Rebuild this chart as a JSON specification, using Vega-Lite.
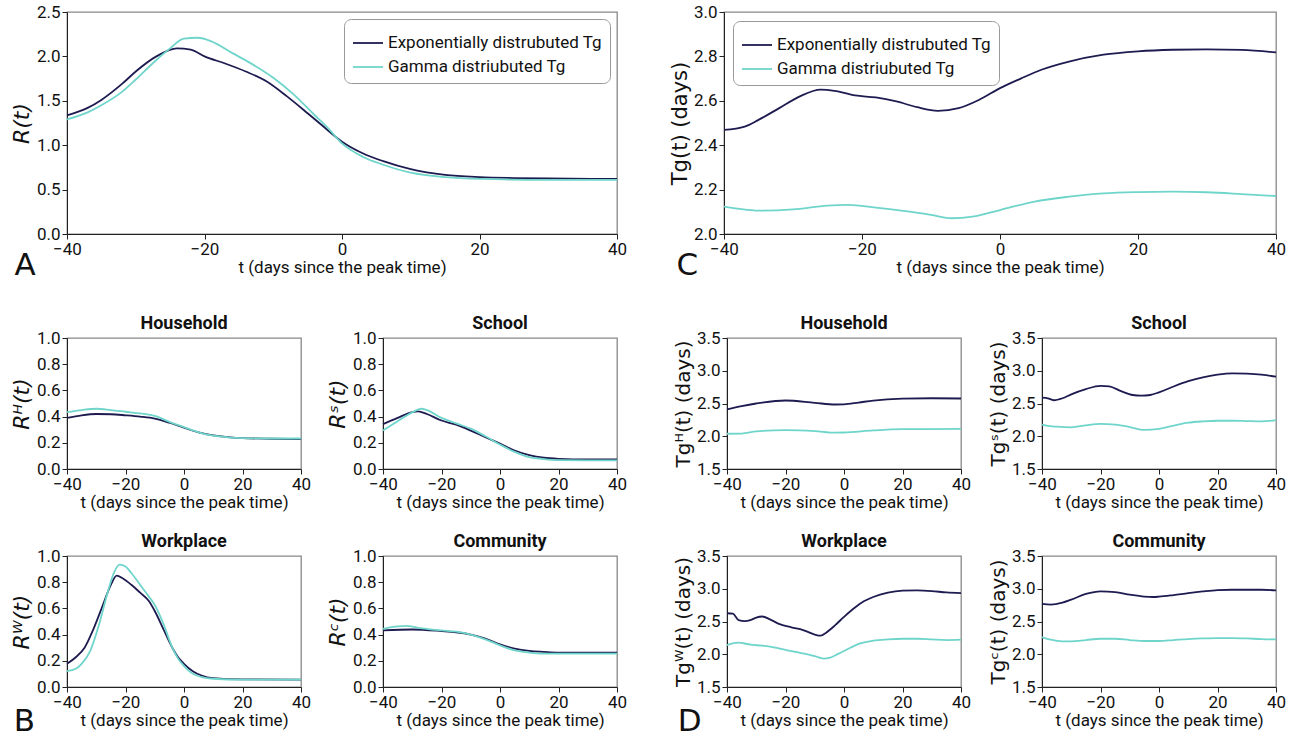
{
"$schema": "https://vega.github.io/schema/vega-lite/v6.json",
"padding": {"left": 9, "top": 2, "right": 2, "bottom": 0},
"background": "white",
"config": {
  "font": "Roboto",
  "view": {"stroke": "#888", "strokeWidth": 1.3},
  "axis": {"grid": false, "labelFont": "Roboto", "labelFontSize": 17, "titleFont": "Roboto", "titleFontSize": 17, "titleFontWeight": "normal", "labelColor": "#111", "titleColor": "#111", "tickColor": "#222", "domainColor": "#222", "tickSize": 5, "labelPadding": 2, "labelFlush": false, "labelOverlap": false},
  "axisX": {"titlePadding": 2},
  "axisY": {"titlePadding": 3},
  "title": {"fontSize": 18, "fontWeight": "bold", "color": "#111", "font": "Roboto"},
  "line": {"strokeWidth": 1.8, "interpolate": "monotone"}
},
"datasets": {"d": [
{"p":"A","s":"E","t":-40,"v":1.335},{"p":"A","s":"E","t":-37,"v":1.42},{"p":"A","s":"E","t":-35,"v":1.51},{"p":"A","s":"E","t":-32,"v":1.69},{"p":"A","s":"E","t":-30,"v":1.83},{"p":"A","s":"E","t":-27,"v":2.0},{"p":"A","s":"E","t":-24,"v":2.09},{"p":"A","s":"E","t":-22,"v":2.075},{"p":"A","s":"E","t":-20,"v":2.0},{"p":"A","s":"E","t":-17,"v":1.92},{"p":"A","s":"E","t":-14,"v":1.83},{"p":"A","s":"E","t":-11,"v":1.72},{"p":"A","s":"E","t":-8,"v":1.55},{"p":"A","s":"E","t":-5,"v":1.36},{"p":"A","s":"E","t":-3,"v":1.23},{"p":"A","s":"E","t":0,"v":1.04},{"p":"A","s":"E","t":3,"v":0.91},{"p":"A","s":"E","t":6,"v":0.82},{"p":"A","s":"E","t":10,"v":0.73},{"p":"A","s":"E","t":15,"v":0.665},{"p":"A","s":"E","t":20,"v":0.64},{"p":"A","s":"E","t":25,"v":0.63},{"p":"A","s":"E","t":30,"v":0.625},{"p":"A","s":"E","t":40,"v":0.62},
{"p":"A","s":"G","t":-40,"v":1.29},{"p":"A","s":"G","t":-37,"v":1.37},{"p":"A","s":"G","t":-35,"v":1.45},{"p":"A","s":"G","t":-32,"v":1.6},{"p":"A","s":"G","t":-30,"v":1.74},{"p":"A","s":"G","t":-27,"v":1.96},{"p":"A","s":"G","t":-25,"v":2.09},{"p":"A","s":"G","t":-23,"v":2.2},{"p":"A","s":"G","t":-21,"v":2.21},{"p":"A","s":"G","t":-19,"v":2.17},{"p":"A","s":"G","t":-16,"v":2.04},{"p":"A","s":"G","t":-13,"v":1.91},{"p":"A","s":"G","t":-10,"v":1.76},{"p":"A","s":"G","t":-7,"v":1.57},{"p":"A","s":"G","t":-4,"v":1.34},{"p":"A","s":"G","t":-2,"v":1.19},{"p":"A","s":"G","t":0,"v":1.02},{"p":"A","s":"G","t":3,"v":0.87},{"p":"A","s":"G","t":6,"v":0.78},{"p":"A","s":"G","t":10,"v":0.69},{"p":"A","s":"G","t":15,"v":0.64},{"p":"A","s":"G","t":20,"v":0.62},{"p":"A","s":"G","t":30,"v":0.61},{"p":"A","s":"G","t":40,"v":0.61},
{"p":"C","s":"E","t":-40,"v":2.469},{"p":"C","s":"E","t":-37,"v":2.484},{"p":"C","s":"E","t":-35,"v":2.514},{"p":"C","s":"E","t":-32,"v":2.567},{"p":"C","s":"E","t":-29,"v":2.62},{"p":"C","s":"E","t":-26,"v":2.65},{"p":"C","s":"E","t":-24,"v":2.645},{"p":"C","s":"E","t":-21,"v":2.624},{"p":"C","s":"E","t":-18,"v":2.615},{"p":"C","s":"E","t":-15,"v":2.597},{"p":"C","s":"E","t":-12,"v":2.571},{"p":"C","s":"E","t":-9,"v":2.555},{"p":"C","s":"E","t":-6,"v":2.567},{"p":"C","s":"E","t":-3,"v":2.605},{"p":"C","s":"E","t":0,"v":2.657},{"p":"C","s":"E","t":3,"v":2.7},{"p":"C","s":"E","t":6,"v":2.74},{"p":"C","s":"E","t":10,"v":2.777},{"p":"C","s":"E","t":15,"v":2.808},{"p":"C","s":"E","t":20,"v":2.823},{"p":"C","s":"E","t":25,"v":2.83},{"p":"C","s":"E","t":30,"v":2.832},{"p":"C","s":"E","t":35,"v":2.829},{"p":"C","s":"E","t":40,"v":2.818},
{"p":"C","s":"G","t":-40,"v":2.123},{"p":"C","s":"G","t":-38,"v":2.114},{"p":"C","s":"G","t":-35,"v":2.105},{"p":"C","s":"G","t":-30,"v":2.111},{"p":"C","s":"G","t":-25,"v":2.128},{"p":"C","s":"G","t":-22,"v":2.131},{"p":"C","s":"G","t":-18,"v":2.119},{"p":"C","s":"G","t":-14,"v":2.104},{"p":"C","s":"G","t":-10,"v":2.086},{"p":"C","s":"G","t":-7,"v":2.071},{"p":"C","s":"G","t":-4,"v":2.078},{"p":"C","s":"G","t":0,"v":2.108},{"p":"C","s":"G","t":5,"v":2.146},{"p":"C","s":"G","t":10,"v":2.168},{"p":"C","s":"G","t":15,"v":2.183},{"p":"C","s":"G","t":20,"v":2.189},{"p":"C","s":"G","t":25,"v":2.191},{"p":"C","s":"G","t":30,"v":2.188},{"p":"C","s":"G","t":35,"v":2.18},{"p":"C","s":"G","t":40,"v":2.171},
{"p":"BH","s":"E","t":-40,"v":0.39},{"p":"BH","s":"E","t":-35,"v":0.41},{"p":"BH","s":"E","t":-30,"v":0.42},{"p":"BH","s":"E","t":-25,"v":0.418},{"p":"BH","s":"E","t":-20,"v":0.41},{"p":"BH","s":"E","t":-15,"v":0.4},{"p":"BH","s":"E","t":-10,"v":0.385},{"p":"BH","s":"E","t":-5,"v":0.353},{"p":"BH","s":"E","t":0,"v":0.315},{"p":"BH","s":"E","t":5,"v":0.28},{"p":"BH","s":"E","t":10,"v":0.256},{"p":"BH","s":"E","t":15,"v":0.244},{"p":"BH","s":"E","t":20,"v":0.236},{"p":"BH","s":"E","t":30,"v":0.231},{"p":"BH","s":"E","t":40,"v":0.228},
{"p":"BH","s":"G","t":-40,"v":0.434},{"p":"BH","s":"G","t":-35,"v":0.45},{"p":"BH","s":"G","t":-30,"v":0.46},{"p":"BH","s":"G","t":-25,"v":0.45},{"p":"BH","s":"G","t":-20,"v":0.437},{"p":"BH","s":"G","t":-15,"v":0.424},{"p":"BH","s":"G","t":-10,"v":0.406},{"p":"BH","s":"G","t":-5,"v":0.36},{"p":"BH","s":"G","t":0,"v":0.32},{"p":"BH","s":"G","t":5,"v":0.28},{"p":"BH","s":"G","t":10,"v":0.254},{"p":"BH","s":"G","t":15,"v":0.242},{"p":"BH","s":"G","t":20,"v":0.236},{"p":"BH","s":"G","t":30,"v":0.233},{"p":"BH","s":"G","t":40,"v":0.233},
{"p":"BS","s":"E","t":-40,"v":0.343},{"p":"BS","s":"E","t":-35,"v":0.39},{"p":"BS","s":"E","t":-30,"v":0.434},{"p":"BS","s":"E","t":-28,"v":0.44},{"p":"BS","s":"E","t":-25,"v":0.42},{"p":"BS","s":"E","t":-20,"v":0.37},{"p":"BS","s":"E","t":-15,"v":0.338},{"p":"BS","s":"E","t":-10,"v":0.293},{"p":"BS","s":"E","t":-5,"v":0.242},{"p":"BS","s":"E","t":0,"v":0.194},{"p":"BS","s":"E","t":5,"v":0.141},{"p":"BS","s":"E","t":10,"v":0.106},{"p":"BS","s":"E","t":15,"v":0.086},{"p":"BS","s":"E","t":20,"v":0.078},{"p":"BS","s":"E","t":30,"v":0.073},{"p":"BS","s":"E","t":40,"v":0.073},
{"p":"BS","s":"G","t":-40,"v":0.293},{"p":"BS","s":"G","t":-35,"v":0.364},{"p":"BS","s":"G","t":-30,"v":0.432},{"p":"BS","s":"G","t":-27,"v":0.46},{"p":"BS","s":"G","t":-25,"v":0.45},{"p":"BS","s":"G","t":-20,"v":0.39},{"p":"BS","s":"G","t":-15,"v":0.348},{"p":"BS","s":"G","t":-10,"v":0.308},{"p":"BS","s":"G","t":-5,"v":0.25},{"p":"BS","s":"G","t":0,"v":0.187},{"p":"BS","s":"G","t":5,"v":0.131},{"p":"BS","s":"G","t":10,"v":0.091},{"p":"BS","s":"G","t":15,"v":0.076},{"p":"BS","s":"G","t":20,"v":0.068},{"p":"BS","s":"G","t":30,"v":0.066},{"p":"BS","s":"G","t":40,"v":0.066},
{"p":"BW","s":"E","t":-40,"v":0.177},{"p":"BW","s":"E","t":-37,"v":0.227},{"p":"BW","s":"E","t":-34,"v":0.3},{"p":"BW","s":"E","t":-31,"v":0.44},{"p":"BW","s":"E","t":-28,"v":0.61},{"p":"BW","s":"E","t":-25,"v":0.78},{"p":"BW","s":"E","t":-23,"v":0.85},{"p":"BW","s":"E","t":-21,"v":0.83},{"p":"BW","s":"E","t":-18,"v":0.78},{"p":"BW","s":"E","t":-15,"v":0.72},{"p":"BW","s":"E","t":-12,"v":0.656},{"p":"BW","s":"E","t":-10,"v":0.58},{"p":"BW","s":"E","t":-7,"v":0.44},{"p":"BW","s":"E","t":-4,"v":0.3},{"p":"BW","s":"E","t":-2,"v":0.227},{"p":"BW","s":"E","t":0,"v":0.177},{"p":"BW","s":"E","t":3,"v":0.121},{"p":"BW","s":"E","t":6,"v":0.088},{"p":"BW","s":"E","t":10,"v":0.068},{"p":"BW","s":"E","t":20,"v":0.058},{"p":"BW","s":"E","t":40,"v":0.056},
{"p":"BW","s":"G","t":-40,"v":0.121},{"p":"BW","s":"G","t":-37,"v":0.139},{"p":"BW","s":"G","t":-35,"v":0.177},{"p":"BW","s":"G","t":-32,"v":0.278},{"p":"BW","s":"G","t":-29,"v":0.48},{"p":"BW","s":"G","t":-26,"v":0.73},{"p":"BW","s":"G","t":-24,"v":0.87},{"p":"BW","s":"G","t":-22,"v":0.934},{"p":"BW","s":"G","t":-20,"v":0.92},{"p":"BW","s":"G","t":-18,"v":0.87},{"p":"BW","s":"G","t":-15,"v":0.78},{"p":"BW","s":"G","t":-12,"v":0.69},{"p":"BW","s":"G","t":-10,"v":0.626},{"p":"BW","s":"G","t":-7,"v":0.48},{"p":"BW","s":"G","t":-4,"v":0.3},{"p":"BW","s":"G","t":-2,"v":0.215},{"p":"BW","s":"G","t":0,"v":0.16},{"p":"BW","s":"G","t":3,"v":0.101},{"p":"BW","s":"G","t":6,"v":0.076},{"p":"BW","s":"G","t":10,"v":0.063},{"p":"BW","s":"G","t":20,"v":0.056},{"p":"BW","s":"G","t":40,"v":0.056},
{"p":"BC","s":"E","t":-40,"v":0.432},{"p":"BC","s":"E","t":-30,"v":0.439},{"p":"BC","s":"E","t":-20,"v":0.427},{"p":"BC","s":"E","t":-15,"v":0.418},{"p":"BC","s":"E","t":-10,"v":0.4},{"p":"BC","s":"E","t":-5,"v":0.369},{"p":"BC","s":"E","t":0,"v":0.326},{"p":"BC","s":"E","t":5,"v":0.293},{"p":"BC","s":"E","t":10,"v":0.275},{"p":"BC","s":"E","t":15,"v":0.268},{"p":"BC","s":"E","t":20,"v":0.263},{"p":"BC","s":"E","t":30,"v":0.263},{"p":"BC","s":"E","t":40,"v":0.263},
{"p":"BC","s":"G","t":-40,"v":0.444},{"p":"BC","s":"G","t":-35,"v":0.462},{"p":"BC","s":"G","t":-32,"v":0.467},{"p":"BC","s":"G","t":-28,"v":0.452},{"p":"BC","s":"G","t":-20,"v":0.432},{"p":"BC","s":"G","t":-15,"v":0.422},{"p":"BC","s":"G","t":-10,"v":0.4},{"p":"BC","s":"G","t":-5,"v":0.364},{"p":"BC","s":"G","t":0,"v":0.318},{"p":"BC","s":"G","t":5,"v":0.28},{"p":"BC","s":"G","t":10,"v":0.263},{"p":"BC","s":"G","t":15,"v":0.255},{"p":"BC","s":"G","t":20,"v":0.255},{"p":"BC","s":"G","t":40,"v":0.255},
{"p":"DH","s":"E","t":-40,"v":2.41},{"p":"DH","s":"E","t":-35,"v":2.46},{"p":"DH","s":"E","t":-30,"v":2.5},{"p":"DH","s":"E","t":-20,"v":2.546},{"p":"DH","s":"E","t":-10,"v":2.51},{"p":"DH","s":"E","t":-3,"v":2.485},{"p":"DH","s":"E","t":0,"v":2.487},{"p":"DH","s":"E","t":5,"v":2.515},{"p":"DH","s":"E","t":10,"v":2.545},{"p":"DH","s":"E","t":20,"v":2.574},{"p":"DH","s":"E","t":30,"v":2.58},{"p":"DH","s":"E","t":40,"v":2.576},
{"p":"DH","s":"G","t":-40,"v":2.038},{"p":"DH","s":"G","t":-35,"v":2.04},{"p":"DH","s":"G","t":-30,"v":2.074},{"p":"DH","s":"G","t":-20,"v":2.094},{"p":"DH","s":"G","t":-10,"v":2.079},{"p":"DH","s":"G","t":-3,"v":2.055},{"p":"DH","s":"G","t":0,"v":2.057},{"p":"DH","s":"G","t":10,"v":2.089},{"p":"DH","s":"G","t":20,"v":2.108},{"p":"DH","s":"G","t":30,"v":2.11},{"p":"DH","s":"G","t":40,"v":2.114},
{"p":"DS","s":"E","t":-40,"v":2.59},{"p":"DS","s":"E","t":-38,"v":2.58},{"p":"DS","s":"E","t":-36,"v":2.55},{"p":"DS","s":"E","t":-33,"v":2.58},{"p":"DS","s":"E","t":-30,"v":2.64},{"p":"DS","s":"E","t":-25,"v":2.72},{"p":"DS","s":"E","t":-20,"v":2.77},{"p":"DS","s":"E","t":-17,"v":2.76},{"p":"DS","s":"E","t":-13,"v":2.69},{"p":"DS","s":"E","t":-9,"v":2.63},{"p":"DS","s":"E","t":-6,"v":2.62},{"p":"DS","s":"E","t":-3,"v":2.63},{"p":"DS","s":"E","t":0,"v":2.67},{"p":"DS","s":"E","t":5,"v":2.76},{"p":"DS","s":"E","t":10,"v":2.84},{"p":"DS","s":"E","t":15,"v":2.9},{"p":"DS","s":"E","t":20,"v":2.94},{"p":"DS","s":"E","t":25,"v":2.96},{"p":"DS","s":"E","t":30,"v":2.955},{"p":"DS","s":"E","t":35,"v":2.94},{"p":"DS","s":"E","t":40,"v":2.91},
{"p":"DS","s":"G","t":-40,"v":2.177},{"p":"DS","s":"G","t":-38,"v":2.157},{"p":"DS","s":"G","t":-35,"v":2.146},{"p":"DS","s":"G","t":-30,"v":2.136},{"p":"DS","s":"G","t":-25,"v":2.167},{"p":"DS","s":"G","t":-20,"v":2.19},{"p":"DS","s":"G","t":-15,"v":2.177},{"p":"DS","s":"G","t":-10,"v":2.141},{"p":"DS","s":"G","t":-5,"v":2.096},{"p":"DS","s":"G","t":0,"v":2.111},{"p":"DS","s":"G","t":5,"v":2.162},{"p":"DS","s":"G","t":10,"v":2.207},{"p":"DS","s":"G","t":15,"v":2.227},{"p":"DS","s":"G","t":20,"v":2.237},{"p":"DS","s":"G","t":25,"v":2.237},{"p":"DS","s":"G","t":30,"v":2.232},{"p":"DS","s":"G","t":35,"v":2.227},{"p":"DS","s":"G","t":40,"v":2.247},
{"p":"DW","s":"E","t":-40,"v":2.626},{"p":"DW","s":"E","t":-38,"v":2.62},{"p":"DW","s":"E","t":-36,"v":2.52},{"p":"DW","s":"E","t":-34,"v":2.505},{"p":"DW","s":"E","t":-32,"v":2.52},{"p":"DW","s":"E","t":-30,"v":2.56},{"p":"DW","s":"E","t":-28,"v":2.576},{"p":"DW","s":"E","t":-25,"v":2.525},{"p":"DW","s":"E","t":-22,"v":2.46},{"p":"DW","s":"E","t":-18,"v":2.41},{"p":"DW","s":"E","t":-14,"v":2.37},{"p":"DW","s":"E","t":-10,"v":2.3},{"p":"DW","s":"E","t":-8,"v":2.283},{"p":"DW","s":"E","t":-6,"v":2.333},{"p":"DW","s":"E","t":-3,"v":2.444},{"p":"DW","s":"E","t":0,"v":2.571},{"p":"DW","s":"E","t":3,"v":2.687},{"p":"DW","s":"E","t":6,"v":2.788},{"p":"DW","s":"E","t":10,"v":2.874},{"p":"DW","s":"E","t":15,"v":2.94},{"p":"DW","s":"E","t":20,"v":2.97},{"p":"DW","s":"E","t":25,"v":2.975},{"p":"DW","s":"E","t":30,"v":2.965},{"p":"DW","s":"E","t":35,"v":2.944},{"p":"DW","s":"E","t":40,"v":2.934},
{"p":"DW","s":"G","t":-40,"v":2.141},{"p":"DW","s":"G","t":-36,"v":2.177},{"p":"DW","s":"G","t":-32,"v":2.146},{"p":"DW","s":"G","t":-28,"v":2.131},{"p":"DW","s":"G","t":-24,"v":2.106},{"p":"DW","s":"G","t":-20,"v":2.066},{"p":"DW","s":"G","t":-15,"v":2.02},{"p":"DW","s":"G","t":-10,"v":1.97},{"p":"DW","s":"G","t":-7,"v":1.934},{"p":"DW","s":"G","t":-5,"v":1.944},{"p":"DW","s":"G","t":-2,"v":2.005},{"p":"DW","s":"G","t":2,"v":2.096},{"p":"DW","s":"G","t":5,"v":2.157},{"p":"DW","s":"G","t":10,"v":2.207},{"p":"DW","s":"G","t":15,"v":2.227},{"p":"DW","s":"G","t":20,"v":2.237},{"p":"DW","s":"G","t":25,"v":2.237},{"p":"DW","s":"G","t":30,"v":2.227},{"p":"DW","s":"G","t":35,"v":2.217},{"p":"DW","s":"G","t":40,"v":2.222},
{"p":"DC","s":"E","t":-40,"v":2.768},{"p":"DC","s":"E","t":-37,"v":2.758},{"p":"DC","s":"E","t":-33,"v":2.788},{"p":"DC","s":"E","t":-30,"v":2.834},{"p":"DC","s":"E","t":-25,"v":2.92},{"p":"DC","s":"E","t":-20,"v":2.96},{"p":"DC","s":"E","t":-15,"v":2.95},{"p":"DC","s":"E","t":-10,"v":2.91},{"p":"DC","s":"E","t":-5,"v":2.88},{"p":"DC","s":"E","t":-2,"v":2.874},{"p":"DC","s":"E","t":0,"v":2.879},{"p":"DC","s":"E","t":5,"v":2.904},{"p":"DC","s":"E","t":10,"v":2.934},{"p":"DC","s":"E","t":15,"v":2.96},{"p":"DC","s":"E","t":20,"v":2.98},{"p":"DC","s":"E","t":25,"v":2.985},{"p":"DC","s":"E","t":30,"v":2.985},{"p":"DC","s":"E","t":35,"v":2.985},{"p":"DC","s":"E","t":40,"v":2.975},
{"p":"DC","s":"G","t":-40,"v":2.263},{"p":"DC","s":"G","t":-37,"v":2.222},{"p":"DC","s":"G","t":-33,"v":2.197},{"p":"DC","s":"G","t":-30,"v":2.197},{"p":"DC","s":"G","t":-25,"v":2.217},{"p":"DC","s":"G","t":-20,"v":2.237},{"p":"DC","s":"G","t":-15,"v":2.237},{"p":"DC","s":"G","t":-10,"v":2.217},{"p":"DC","s":"G","t":-5,"v":2.202},{"p":"DC","s":"G","t":0,"v":2.202},{"p":"DC","s":"G","t":5,"v":2.217},{"p":"DC","s":"G","t":10,"v":2.232},{"p":"DC","s":"G","t":15,"v":2.242},{"p":"DC","s":"G","t":20,"v":2.247},{"p":"DC","s":"G","t":25,"v":2.247},{"p":"DC","s":"G","t":30,"v":2.242},{"p":"DC","s":"G","t":35,"v":2.232},{"p":"DC","s":"G","t":40,"v":2.227}
]},
"data": {"name": "d"},
"resolve": {"scale": {"color": "independent"}, "legend": {"color": "independent"}},
"spacing": 32,
"vconcat": [
 {"hconcat": [
  {"width": 550, "height": 222,
   "title": {"text": "A", "orient": "bottom", "anchor": "start", "frame": "bounds", "fontSize": 31, "fontWeight": "normal", "font": "DejaVu Sans", "dx": 4, "offset": -24},
   "transform": [{"filter": "datum.p == 'A'"}],
   "mark": {"type": "line", "interpolate": "monotone", "strokeWidth": 1.8},
   "encoding": {
    "x": {"field": "t", "type": "quantitative", "scale": {"domain": [-40, 40], "nice": false}, "axis": {"values": [-40, -20, 0, 20, 40], "title": "t (days since the peak time)"}},
    "y": {"field": "v", "type": "quantitative", "scale": {"domain": [0, 2.5], "nice": false, "zero": false}, "axis": {"values": [0, 0.5, 1, 1.5, 2, 2.5], "format": ".1f", "title": "R(t)", "titleFont": "DejaVu Sans", "titleFontStyle": "italic", "titleFontSize": 22}},
    "color": {"field": "s", "type": "nominal", "scale": {"domain": ["E", "G"], "range": ["#1d1b50", "#6fd5cb"]},
     "legend": {"orient": "top-right", "title": null, "labelExpr": "datum.label == 'E' ? 'Exponentially distrubuted Tg' : 'Gamma distriubuted Tg'", "labelLimit": 0, "symbolType": "stroke", "symbolSize": 900, "symbolStrokeWidth": 2, "strokeColor": "#999", "cornerRadius": 7, "padding": 8, "offset": 7, "labelFontSize": 17, "labelFont": "Roboto", "labelColor": "#111", "rowPadding": 0, "fillColor": "white"}}
   }},
  {"width": 552, "height": 222,
   "title": {"text": "C", "orient": "bottom", "anchor": "start", "frame": "bounds", "fontSize": 31, "fontWeight": "normal", "font": "DejaVu Sans", "dx": 7, "offset": -24},
   "transform": [{"filter": "datum.p == 'C'"}],
   "mark": {"type": "line", "interpolate": "monotone", "strokeWidth": 1.8},
   "encoding": {
    "x": {"field": "t", "type": "quantitative", "scale": {"domain": [-40, 40], "nice": false}, "axis": {"values": [-40, -20, 0, 20, 40], "title": "t (days since the peak time)"}},
    "y": {"field": "v", "type": "quantitative", "scale": {"domain": [2, 3], "nice": false, "zero": false}, "axis": {"values": [2, 2.2, 2.4, 2.6, 2.8, 3], "format": ".1f", "title": "Tg(t) (days)", "titleFont": "DejaVu Sans", "titleFontSize": 21}},
    "color": {"field": "s", "type": "nominal", "scale": {"domain": ["E", "G"], "range": ["#1d1b50", "#6fd5cb"]},
     "legend": {"orient": "top-left", "title": null, "labelExpr": "datum.label == 'E' ? 'Exponentially distrubuted Tg' : 'Gamma distriubuted Tg'", "labelLimit": 0, "symbolType": "stroke", "symbolSize": 900, "symbolStrokeWidth": 2, "strokeColor": "#999", "cornerRadius": 7, "padding": 8, "offset": 9, "labelFontSize": 17, "labelFont": "Roboto", "labelColor": "#111", "rowPadding": 0, "fillColor": "white"}}
   }}
 ], "spacing": 40},
 {"hconcat": [
  {"title": {"text": "B", "orient": "bottom", "anchor": "start", "frame": "bounds", "fontSize": 31, "fontWeight": "normal", "font": "DejaVu Sans", "color": "#111", "dx": 4, "offset": -22},
   "spacing": 21,
   "vconcat": [
    {"spacing": 13, "hconcat": [
     {"width": 234, "height": 131, "title": {"text": "Household", "frame": "group", "anchor": "middle", "offset": -4},
      "transform": [{"filter": "datum.p == 'BH'"}],
      "mark": {"type": "line", "interpolate": "monotone", "strokeWidth": 1.8},
      "encoding": {
       "x": {"field": "t", "type": "quantitative", "scale": {"domain": [-40, 40], "nice": false}, "axis": {"values": [-40, -20, 0, 20, 40], "title": "t (days since the peak time)"}},
       "y": {"field": "v", "type": "quantitative", "scale": {"domain": [0, 1], "nice": false}, "axis": {"values": [0, 0.2, 0.4, 0.6, 0.8, 1], "format": ".1f", "title": "Rᴴ(t)", "titleFont": "DejaVu Sans", "titleFontStyle": "italic", "titleFontSize": 22}},
       "color": {"field": "s", "type": "nominal", "scale": {"domain": ["E", "G"], "range": ["#1d1b50", "#6fd5cb"]}, "legend": null}}},
     {"width": 234, "height": 131, "title": {"text": "School", "frame": "group", "anchor": "middle", "offset": -4},
      "transform": [{"filter": "datum.p == 'BS'"}],
      "mark": {"type": "line", "interpolate": "monotone", "strokeWidth": 1.8},
      "encoding": {
       "x": {"field": "t", "type": "quantitative", "scale": {"domain": [-40, 40], "nice": false}, "axis": {"values": [-40, -20, 0, 20, 40], "title": "t (days since the peak time)"}},
       "y": {"field": "v", "type": "quantitative", "scale": {"domain": [0, 1], "nice": false}, "axis": {"values": [0, 0.2, 0.4, 0.6, 0.8, 1], "format": ".1f", "title": "Rˢ(t)", "titleFont": "DejaVu Sans", "titleFontStyle": "italic", "titleFontSize": 22}},
       "color": {"field": "s", "type": "nominal", "scale": {"domain": ["E", "G"], "range": ["#1d1b50", "#6fd5cb"]}, "legend": null}}}
    ]},
    {"spacing": 13, "hconcat": [
     {"width": 234, "height": 131, "title": {"text": "Workplace", "frame": "group", "anchor": "middle", "offset": -4},
      "transform": [{"filter": "datum.p == 'BW'"}],
      "mark": {"type": "line", "interpolate": "monotone", "strokeWidth": 1.8},
      "encoding": {
       "x": {"field": "t", "type": "quantitative", "scale": {"domain": [-40, 40], "nice": false}, "axis": {"values": [-40, -20, 0, 20, 40], "title": "t (days since the peak time)"}},
       "y": {"field": "v", "type": "quantitative", "scale": {"domain": [0, 1], "nice": false}, "axis": {"values": [0, 0.2, 0.4, 0.6, 0.8, 1], "format": ".1f", "title": "Rᵂ(t)", "titleFont": "DejaVu Sans", "titleFontStyle": "italic", "titleFontSize": 22}},
       "color": {"field": "s", "type": "nominal", "scale": {"domain": ["E", "G"], "range": ["#1d1b50", "#6fd5cb"]}, "legend": null}}},
     {"width": 234, "height": 131, "title": {"text": "Community", "frame": "group", "anchor": "middle", "offset": -4},
      "transform": [{"filter": "datum.p == 'BC'"}],
      "mark": {"type": "line", "interpolate": "monotone", "strokeWidth": 1.8},
      "encoding": {
       "x": {"field": "t", "type": "quantitative", "scale": {"domain": [-40, 40], "nice": false}, "axis": {"values": [-40, -20, 0, 20, 40], "title": "t (days since the peak time)"}},
       "y": {"field": "v", "type": "quantitative", "scale": {"domain": [0, 1], "nice": false}, "axis": {"values": [0, 0.2, 0.4, 0.6, 0.8, 1], "format": ".1f", "title": "Rᶜ(t)", "titleFont": "DejaVu Sans", "titleFontStyle": "italic", "titleFontSize": 22}},
       "color": {"field": "s", "type": "nominal", "scale": {"domain": ["E", "G"], "range": ["#1d1b50", "#6fd5cb"]}, "legend": null}}}
    ]}
   ]},
  {"title": {"text": "D", "orient": "bottom", "anchor": "start", "frame": "bounds", "fontSize": 31, "fontWeight": "normal", "font": "DejaVu Sans", "color": "#111", "dx": 5, "offset": -22},
   "spacing": 21,
   "vconcat": [
    {"spacing": 15, "hconcat": [
     {"width": 234, "height": 131, "title": {"text": "Household", "frame": "group", "anchor": "middle", "offset": -4},
      "transform": [{"filter": "datum.p == 'DH'"}],
      "mark": {"type": "line", "interpolate": "monotone", "strokeWidth": 1.8},
      "encoding": {
       "x": {"field": "t", "type": "quantitative", "scale": {"domain": [-40, 40], "nice": false}, "axis": {"values": [-40, -20, 0, 20, 40], "title": "t (days since the peak time)"}},
       "y": {"field": "v", "type": "quantitative", "scale": {"domain": [1.5, 3.5], "nice": false, "zero": false}, "axis": {"values": [1.5, 2, 2.5, 3, 3.5], "format": ".1f", "title": "Tgᴴ(t) (days)", "titleFont": "DejaVu Sans", "titleFontSize": 20}},
       "color": {"field": "s", "type": "nominal", "scale": {"domain": ["E", "G"], "range": ["#1d1b50", "#6fd5cb"]}, "legend": null}}},
     {"width": 234, "height": 131, "title": {"text": "School", "frame": "group", "anchor": "middle", "offset": -4},
      "transform": [{"filter": "datum.p == 'DS'"}],
      "mark": {"type": "line", "interpolate": "monotone", "strokeWidth": 1.8},
      "encoding": {
       "x": {"field": "t", "type": "quantitative", "scale": {"domain": [-40, 40], "nice": false}, "axis": {"values": [-40, -20, 0, 20, 40], "title": "t (days since the peak time)"}},
       "y": {"field": "v", "type": "quantitative", "scale": {"domain": [1.5, 3.5], "nice": false, "zero": false}, "axis": {"values": [1.5, 2, 2.5, 3, 3.5], "format": ".1f", "title": "Tgˢ(t) (days)", "titleFont": "DejaVu Sans", "titleFontSize": 20}},
       "color": {"field": "s", "type": "nominal", "scale": {"domain": ["E", "G"], "range": ["#1d1b50", "#6fd5cb"]}, "legend": null}}}
    ]},
    {"spacing": 15, "hconcat": [
     {"width": 234, "height": 131, "title": {"text": "Workplace", "frame": "group", "anchor": "middle", "offset": -4},
      "transform": [{"filter": "datum.p == 'DW'"}],
      "mark": {"type": "line", "interpolate": "monotone", "strokeWidth": 1.8},
      "encoding": {
       "x": {"field": "t", "type": "quantitative", "scale": {"domain": [-40, 40], "nice": false}, "axis": {"values": [-40, -20, 0, 20, 40], "title": "t (days since the peak time)"}},
       "y": {"field": "v", "type": "quantitative", "scale": {"domain": [1.5, 3.5], "nice": false, "zero": false}, "axis": {"values": [1.5, 2, 2.5, 3, 3.5], "format": ".1f", "title": "Tgᵂ(t) (days)", "titleFont": "DejaVu Sans", "titleFontSize": 20}},
       "color": {"field": "s", "type": "nominal", "scale": {"domain": ["E", "G"], "range": ["#1d1b50", "#6fd5cb"]}, "legend": null}}},
     {"width": 234, "height": 131, "title": {"text": "Community", "frame": "group", "anchor": "middle", "offset": -4},
      "transform": [{"filter": "datum.p == 'DC'"}],
      "mark": {"type": "line", "interpolate": "monotone", "strokeWidth": 1.8},
      "encoding": {
       "x": {"field": "t", "type": "quantitative", "scale": {"domain": [-40, 40], "nice": false}, "axis": {"values": [-40, -20, 0, 20, 40], "title": "t (days since the peak time)"}},
       "y": {"field": "v", "type": "quantitative", "scale": {"domain": [1.5, 3.5], "nice": false, "zero": false}, "axis": {"values": [1.5, 2, 2.5, 3, 3.5], "format": ".1f", "title": "Tgᶜ(t) (days)", "titleFont": "DejaVu Sans", "titleFontSize": 20}},
       "color": {"field": "s", "type": "nominal", "scale": {"domain": ["E", "G"], "range": ["#1d1b50", "#6fd5cb"]}, "legend": null}}}
    ]}
   ]}
 ], "spacing": 44}
]
}
